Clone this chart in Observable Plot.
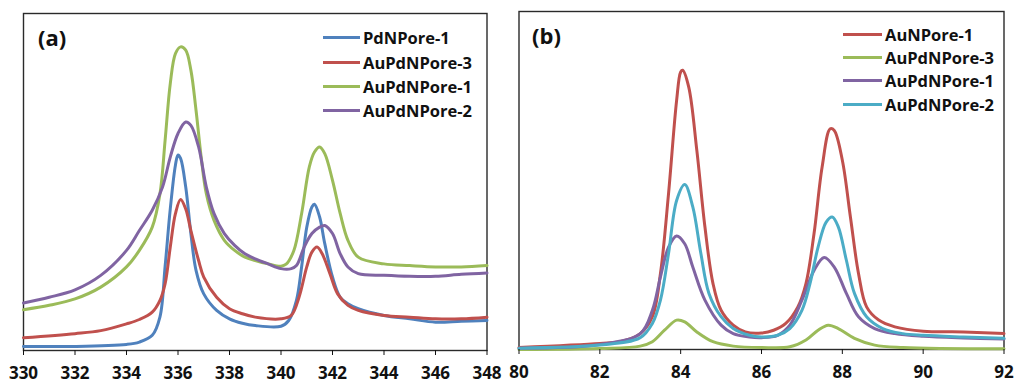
<!DOCTYPE html>
<html>
<head>
<meta charset="utf-8">
<script src="https://cdn.jsdelivr.net/npm/d3@7"></script>
<script src="https://cdn.jsdelivr.net/npm/@observablehq/plot@0.6"></script>
<style>
  html, body { margin: 0; padding: 0; background: #fff; }
  #wrap { position: relative; width: 1015px; height: 385px; font-family: "Open Sans", sans-serif; }
  .panel { position: absolute; top: 0; }
  .lg { position: absolute; font-weight: 700; font-size: 16.5px; color: #111; }
  .lg .row { position: absolute; white-space: nowrap; display: flex; align-items: center; }
  .lg .sw { display: inline-block; height: 3px; margin-right: 3px; }
  .tag { position: absolute; font-weight: 700; font-size: 22px; color: #111; }
</style>
</head>
<body>
<div id="wrap"></div>
<script>
// ---------- Panel (a): Pd 3d ----------
const aTicks = [330, 332, 334, 336, 338, 340, 342, 344, 346, 348];
const aNames = ["PdNPore-1", "AuPdNPore-3", "AuPdNPore-1", "AuPdNPore-2"];
const aColors = ["#4F81BD", "#C0504D", "#9BBB59", "#8064A2"];

const pd1X = [330, 332, 334, 334.5, 335, 335.3, 335.5, 335.7, 335.9, 336.0, 336.1, 336.3, 336.5, 336.7, 337, 337.5, 338, 338.5, 339, 340, 340.3, 340.6, 340.8, 341.0, 341.2, 341.3, 341.5, 341.7, 342, 342.3, 342.6, 343, 344, 345, 346, 347, 348];
const pd1Y = [1.2, 1.2, 1.8, 2.5, 4.5, 10, 25, 42, 55, 58, 57, 48.5, 34.7, 23.8, 16.8, 11.9, 9.4, 8.1, 7.4, 7.2, 8.9, 14.9, 24.8, 36.6, 42.6, 43.4, 39.6, 31.7, 21.8, 15.8, 13.9, 12.4, 10.4, 9.4, 8.4, 8.7, 8.9];

const aupd3X = [330, 332, 333, 334, 334.5, 335, 335.3, 335.5, 335.7, 335.9, 336.1, 336.3, 336.5, 336.8, 337, 337.5, 338, 338.5, 339, 340, 340.4, 340.7, 341.0, 341.2, 341.4, 341.6, 341.9, 342.2, 342.6, 343, 344, 345, 346, 347, 348];
const aupd3Y = [3.8, 5, 5.9, 7.9, 9.2, 11.4, 14.9, 19.8, 30.7, 40.6, 44.8, 42, 35.6, 26.7, 21.8, 15.8, 12.4, 10.9, 9.9, 9.4, 10.4, 15.8, 24.8, 29.2, 30.7, 28.7, 22.8, 16.8, 13.4, 11.9, 10.4, 9.9, 9.4, 9.4, 9.9];

const aupd1X = [330, 331, 332, 333, 334, 334.5, 335, 335.3, 335.5, 335.7, 335.9, 336.1, 336.3, 336.5, 336.7, 336.9, 337.1, 337.4, 337.8, 338.2, 338.6, 339, 339.5, 340, 340.2, 340.5, 340.8, 341.1, 341.3, 341.5, 341.7, 342, 342.3, 342.6, 343, 344, 345, 346, 347, 348];
const aupd1Y = [12.1, 13.4, 15.3, 18.8, 24.8, 29.7, 36.6, 46.5, 62.4, 79.2, 88.1, 90.1, 89.1, 83.2, 71.3, 57.4, 46.5, 38.6, 32.7, 29.7, 27.7, 26.7, 25.7, 25, 25.6, 29.7, 40.6, 54.5, 58.9, 60.4, 58.4, 50.5, 40.6, 32.7, 27.7, 25.7, 25.2, 24.8, 24.8, 25.2];

const aupd2X = [330, 331, 332, 333, 334, 334.5, 335, 335.4, 335.7, 336, 336.3, 336.5, 336.8, 337.1, 337.4, 337.8, 338.2, 338.6, 339, 339.5, 340, 340.4, 340.6, 340.9, 341.2, 341.5, 341.7, 342, 342.3, 342.6, 343, 344, 345, 346, 347, 348];
const aupd2Y = [14.1, 15.8, 18, 22.3, 29.7, 35.6, 41.6, 48.5, 57.4, 64.4, 67.8, 66.8, 60.4, 48.5, 40.6, 34.7, 31.2, 28.7, 27.2, 25.7, 24.3, 24.3, 25.2, 30.7, 34.7, 36.6, 37.1, 34.7, 28.7, 24.8, 22.8, 22.3, 22, 22, 22.6, 23];

// ---------- Panel (b): Au 4f ----------
const bTicks = [80, 82, 84, 86, 88, 90, 92];
const bNames = ["AuNPore-1", "AuPdNPore-3", "AuPdNPore-1", "AuPdNPore-2"];
const bColors = ["#C0504D", "#9BBB59", "#8064A2", "#4BACC6"];

const au1X = [80, 82, 82.5, 83, 83.3, 83.5, 83.7, 83.9, 84.0, 84.05, 84.2, 84.4, 84.6, 84.8, 85.0, 85.3, 85.6, 86, 86.3, 86.6, 86.9, 87.1, 87.3, 87.5, 87.7, 87.8, 88.0, 88.2, 88.4, 88.6, 88.9, 89.3, 90, 91, 92];
const au1Y = [0.6, 1.8, 2.3, 4.7, 9.7, 22.5, 46.1, 73.7, 82.1, 82.6, 77.6, 58.9, 36.3, 19.5, 11.6, 7.2, 5.2, 4.9, 5.7, 7.7, 12.6, 19.5, 34.3, 54, 65.3, 64.8, 56, 39.2, 22.5, 12.6, 8.7, 6.7, 5.4, 5.2, 4.7];

const bAupd3X = [80, 82, 83, 83.3, 83.6, 83.9, 84.1, 84.4, 84.8, 85.3, 86, 86.7, 87.1, 87.4, 87.65, 87.9, 88.3, 88.8, 89.5, 92];
const bAupd3Y = [0, 0.3, 1, 2.3, 5.7, 8.7, 8.2, 5.2, 2.3, 1, 0.6, 0.8, 2.8, 5.7, 7.2, 6.2, 3.3, 1.3, 0.6, 0.2];

const bAupd1X = [80, 82, 83, 83.3, 83.5, 83.7, 83.9, 84.1, 84.3, 84.6, 85, 85.3, 85.7, 86, 86.4, 86.7, 87.0, 87.3, 87.55, 87.8, 88.1, 88.4, 88.8, 89.3, 90, 91, 92];
const bAupd1Y = [0.4, 1.5, 4.7, 11.6, 21.5, 30.3, 33.6, 31.3, 24.4, 14.6, 7.2, 4.7, 3.7, 3.5, 4.2, 7.2, 14.6, 23.4, 27.2, 24.4, 16.6, 9.7, 6.2, 4.7, 3.9, 3.4, 3.1];

const bAupd2X = [80, 82, 83, 83.3, 83.5, 83.7, 83.9, 84.1, 84.3, 84.5, 84.7, 85, 85.3, 85.7, 86, 86.4, 86.7, 87.0, 87.2, 87.4, 87.6, 87.75, 87.9, 88.1, 88.3, 88.6, 89, 89.5, 90, 91, 92];
const bAupd2Y = [0.4, 1.3, 3.5, 7.7, 14.6, 28.4, 44.1, 48.8, 42.2, 28.4, 16.6, 9.7, 6.2, 4.2, 3.7, 4.2, 6.2, 11.6, 19.5, 30.3, 37.7, 39.2, 36.3, 26.4, 16.6, 9.7, 6.2, 4.7, 4.2, 3.7, 3.3];

function toRows(name, xs, ys) { return xs.map((x, i) => ({series: name, x, y: ys[i]})); }

const aData = [
  ...toRows(aNames[0], pd1X, pd1Y),
  ...toRows(aNames[1], aupd3X, aupd3Y),
  ...toRows(aNames[2], aupd1X, aupd1Y),
  ...toRows(aNames[3], aupd2X, aupd2Y)
];
const bData = [
  ...toRows(bNames[0], au1X, au1Y),
  ...toRows(bNames[1], bAupd3X, bAupd3Y),
  ...toRows(bNames[2], bAupd1X, bAupd1Y),
  ...toRows(bNames[3], bAupd2X, bAupd2Y)
];

function makePanel(data, names, colors, ticks, domain, opts) {
  return Plot.plot({
    width: opts.width, height: 385,
    marginLeft: opts.ml, marginRight: opts.mr, marginTop: opts.mt, marginBottom: opts.mb,
    style: {fontFamily: "'Open Sans', sans-serif", background: "transparent", overflow: "visible"},
    x: {domain, ticks, label: null},
    y: {domain: [0, 100], axis: null},
    color: {domain: names, range: colors},
    marks: [
      Plot.frame({stroke: "#2a2a2a", strokeWidth: 1.4}),
      Plot.line(data, {x: "x", y: "y", z: "series", stroke: "series", strokeWidth: 3, curve: "catmull-rom"}),
      Plot.axisX({ticks, tickSize: 5, tickPadding: 11, tickFormat: d => String(d), fontSize: 17, fontWeight: 700, fill: "#111", stroke: "#111"})
    ]
  });
}

const wrap = document.getElementById("wrap");

const pa = makePanel(aData, aNames, aColors, aTicks, [330, 348], {width: 500, ml: 23, mr: 13.5, mt: 13, mb: 35});
const da = document.createElement("div"); da.className = "panel"; da.style.left = "0px"; da.appendChild(pa); wrap.appendChild(da);

const pb = makePanel(bData, bNames, bColors, bTicks, [80, 92], {width: 515, ml: 18.5, mr: 11.5, mt: 11, mb: 36});
const db = document.createElement("div"); db.className = "panel"; db.style.left = "500px"; db.appendChild(pb); wrap.appendChild(db);

function legend(names, colors, x, y0, step, swW) {
  const lg = document.createElement("div"); lg.className = "lg";
  lg.style.left = x + "px"; lg.style.top = "0px";
  names.forEach((n, i) => {
    const r = document.createElement("div"); r.className = "row";
    r.style.top = (y0 + i * step - 12) + "px"; r.style.height = "24px";
    const s = document.createElement("span"); s.className = "sw"; s.style.width = swW + "px"; s.style.background = colors[i];
    const t = document.createElement("span"); t.textContent = n;
    r.appendChild(s); r.appendChild(t); lg.appendChild(r);
  });
  wrap.appendChild(lg);
}
legend(aNames, aColors, 323, 37.7, 24.4, 37);
legend(bNames, bColors, 843, 34.3, 23.3, 39);

function tag(txt, x, y) {
  const d = document.createElement("div"); d.className = "tag"; d.textContent = txt;
  d.style.left = x + "px"; d.style.top = y + "px"; wrap.appendChild(d);
}
tag("(a)", 38, 22);
tag("(b)", 532, 20);
</script>
</body>
</html>
